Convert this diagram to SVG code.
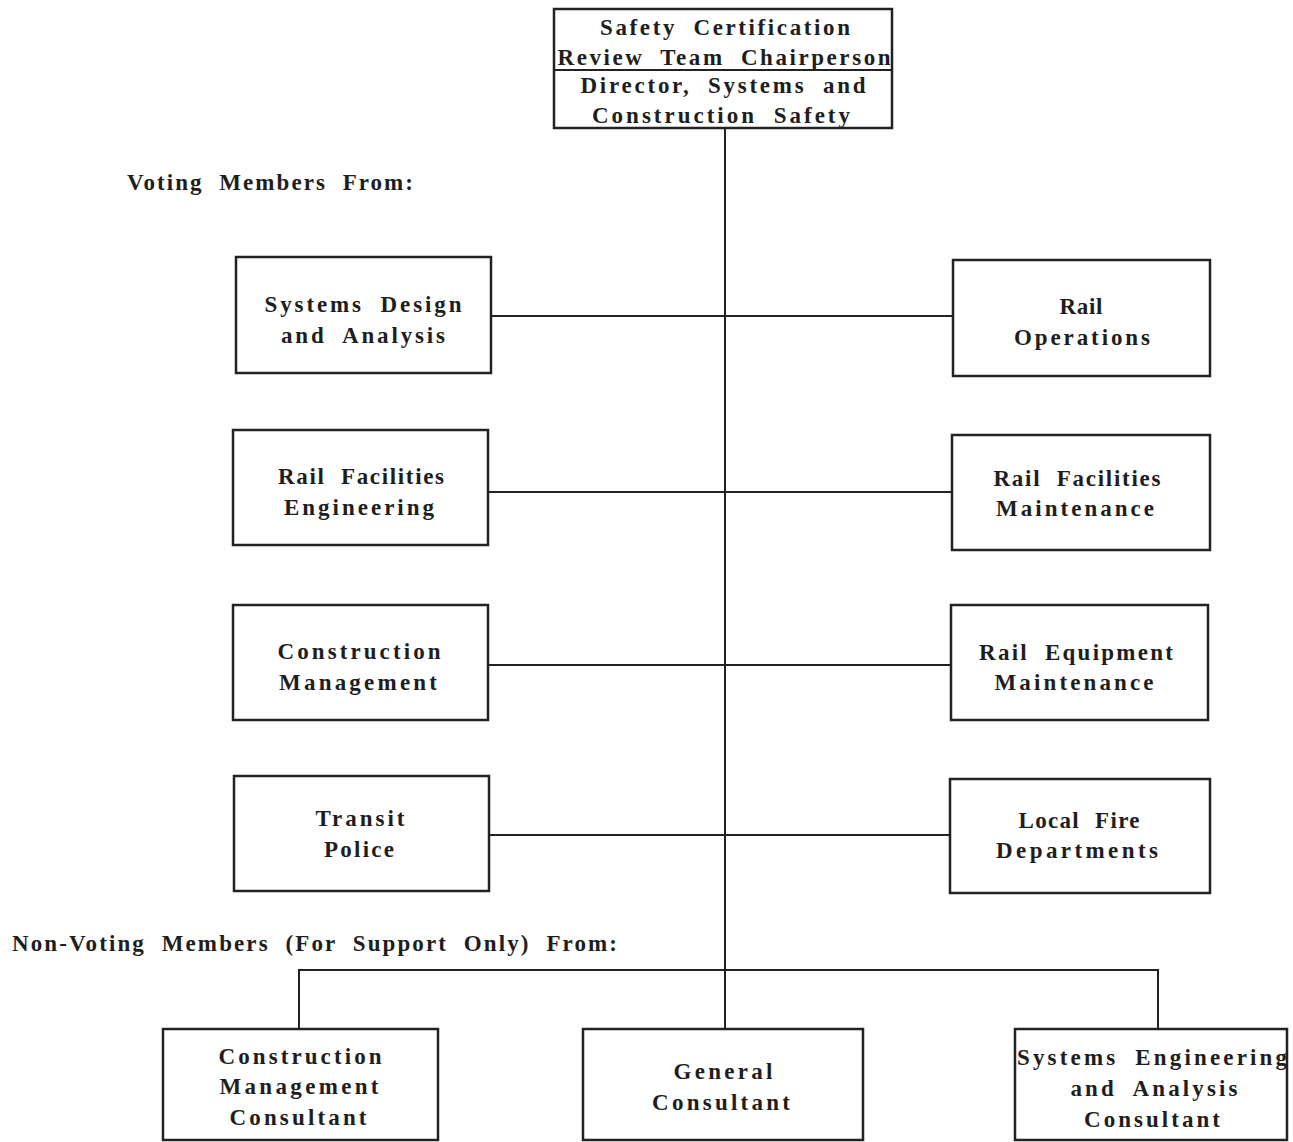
<svg xmlns="http://www.w3.org/2000/svg" width="1293" height="1142" viewBox="0 0 1293 1142">
<style>
.box{fill:#fff;stroke:#222;stroke-width:2.5}
.conn{stroke:#222;stroke-width:2;fill:none}
text{font-family:"Liberation Serif","Times New Roman",serif;font-weight:bold;font-size:23px;fill:#1e1e1e;word-spacing:8px}
.c{text-anchor:middle}
</style>
<rect width="1293" height="1142" fill="#fff"/>
<g id="connectors">
<line class="conn" x1="725" y1="128" x2="725" y2="1029"/>
<line class="conn" x1="491" y1="316" x2="953" y2="316"/>
<line class="conn" x1="488" y1="492" x2="952" y2="492"/>
<line class="conn" x1="488" y1="665" x2="951" y2="665"/>
<line class="conn" x1="489" y1="835" x2="950" y2="835"/>
<polyline class="conn" points="299,1029 299,970 1158,970 1158,1029"/>
</g>
<g id="chair">
<rect class="box" x="554" y="9" width="338" height="119"/>
<line class="conn" x1="554" y1="70" x2="892" y2="70"/>
<text class="c" x="725" y="35" textLength="250" lengthAdjust="spacing">Safety Certification</text>
<text class="c" x="724" y="65" textLength="333" lengthAdjust="spacing">Review Team Chairperson</text>
<text class="c" x="723" y="93" textLength="285" lengthAdjust="spacing">Director, Systems and</text>
<text class="c" x="721" y="123" textLength="258" lengthAdjust="spacing">Construction Safety</text>
</g>
<g id="label-voting"><text x="127" y="190" textLength="286" lengthAdjust="spacing">Voting Members From:</text></g>
<g id="label-nonvoting"><text x="12" y="951" textLength="605" lengthAdjust="spacing">Non-Voting Members (For Support Only) From:</text></g>
<g id="sysdesign">
<rect class="box" x="236" y="257" width="255" height="116"/>
<text class="c" x="363" y="312" textLength="197" lengthAdjust="spacing">Systems Design</text>
<text class="c" x="363" y="343" textLength="164" lengthAdjust="spacing">and Analysis</text>
</g>
<g id="railops">
<rect class="box" x="953" y="260" width="257" height="116"/>
<text class="c" x="1081" y="314" textLength="43" lengthAdjust="spacing">Rail</text>
<text class="c" x="1082" y="345" textLength="136" lengthAdjust="spacing">Operations</text>
</g>
<g id="railfaceng">
<rect class="box" x="233" y="430" width="255" height="115"/>
<text class="c" x="361" y="484" textLength="166" lengthAdjust="spacing">Rail Facilities</text>
<text class="c" x="359" y="515" textLength="150" lengthAdjust="spacing">Engineering</text>
</g>
<g id="railfacmaint">
<rect class="box" x="952" y="435" width="258" height="115"/>
<text class="c" x="1077" y="486" textLength="167" lengthAdjust="spacing">Rail Facilities</text>
<text class="c" x="1075" y="516" textLength="158" lengthAdjust="spacing">Maintenance</text>
</g>
<g id="constmgmt">
<rect class="box" x="233" y="605" width="255" height="115"/>
<text class="c" x="359" y="659" textLength="163" lengthAdjust="spacing">Construction</text>
<text class="c" x="358" y="690" textLength="158" lengthAdjust="spacing">Management</text>
</g>
<g id="railequip">
<rect class="box" x="951" y="605" width="257" height="115"/>
<text class="c" x="1076" y="660" textLength="194" lengthAdjust="spacing">Rail Equipment</text>
<text class="c" x="1074" y="690" textLength="159" lengthAdjust="spacing">Maintenance</text>
</g>
<g id="transitpolice">
<rect class="box" x="234" y="776" width="255" height="115"/>
<text class="c" x="360" y="826" textLength="89" lengthAdjust="spacing">Transit</text>
<text class="c" x="359" y="857" textLength="70" lengthAdjust="spacing">Police</text>
</g>
<g id="localfire">
<rect class="box" x="950" y="779" width="260" height="114"/>
<text class="c" x="1079" y="828" textLength="121" lengthAdjust="spacing">Local Fire</text>
<text class="c" x="1077" y="858" textLength="162" lengthAdjust="spacing">Departments</text>
</g>
<g id="cmconsultant">
<rect class="box" x="163" y="1029" width="275" height="111"/>
<text class="c" x="300" y="1064" textLength="163" lengthAdjust="spacing">Construction</text>
<text class="c" x="299" y="1094" textLength="159" lengthAdjust="spacing">Management</text>
<text class="c" x="298" y="1125" textLength="137" lengthAdjust="spacing">Consultant</text>
</g>
<g id="genconsultant">
<rect class="box" x="583" y="1029" width="280" height="111"/>
<text class="c" x="723" y="1079" textLength="99" lengthAdjust="spacing">General</text>
<text class="c" x="721" y="1110" textLength="138" lengthAdjust="spacing">Consultant</text>
</g>
<g id="seaconsultant">
<rect class="box" x="1015" y="1029" width="272" height="111"/>
<text class="c" x="1152" y="1065" textLength="270" lengthAdjust="spacing">Systems Engineering</text>
<text class="c" x="1154" y="1096" textLength="167" lengthAdjust="spacing">and Analysis</text>
<text class="c" x="1152" y="1127" textLength="136" lengthAdjust="spacing">Consultant</text>
</g>
</svg>
